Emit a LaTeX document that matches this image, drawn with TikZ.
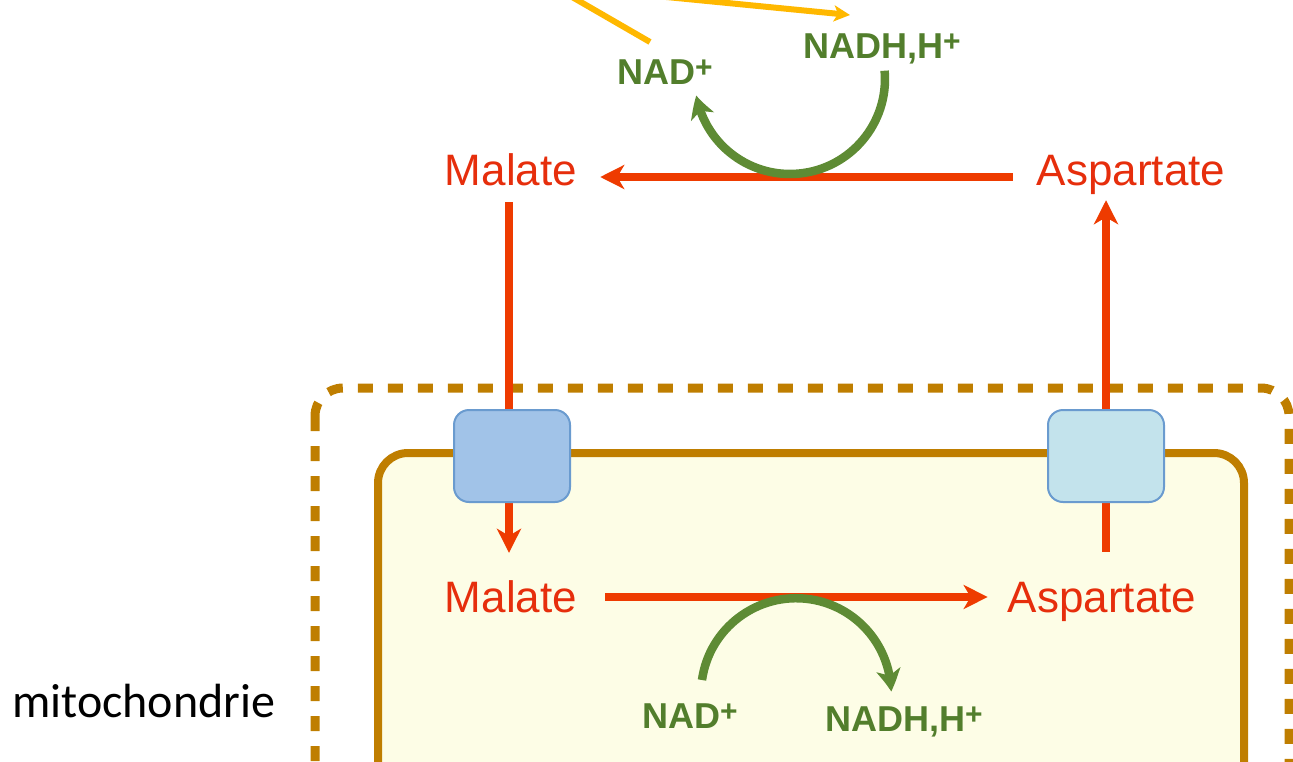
\documentclass[tikz,border=0pt]{standalone}
\usepackage{fontspec}
\setmainfont{Liberation Sans}
\newfontfamily\carlitofont{Carlito}
\usetikzlibrary{arrows.meta,bending}
\definecolor{redtxt}{RGB}{230,46,12}
\definecolor{redln}{RGB}{238,59,0}
\definecolor{grtxt}{RGB}{82,126,44}
\definecolor{grln}{RGB}{94,139,52}
\definecolor{yel}{RGB}{255,184,0}
\definecolor{mitobrown}{RGB}{191,126,0}
\definecolor{pale}{RGB}{253,253,230}
\definecolor{blueA}{RGB}{161,195,232}
\definecolor{blueB}{RGB}{195,227,236}
\definecolor{blueln}{RGB}{106,155,207}
\newcommand{\plusup}{\raisebox{6.5pt}{\fontsize{30}{30}\selectfont +}}
\begin{document}
\begin{tikzpicture}[x=1pt,y=-1pt,
  metab/.style={text=redtxt, font=\fontsize{44}{44}\selectfont, inner sep=0pt, anchor=base, text height=32pt, text depth=0pt},
  cof/.style={text=grtxt, font=\fontsize{36}{36}\selectfont\bfseries, inner sep=0pt, anchor=base west},
  redarrow/.style={draw=redln, line width=7.5pt, -{Stealth[length=24pt,width=24pt,inset=7pt]}},
  grarrow/.style={draw=grln, line width=8.5pt, -{Stealth[length=22pt,width=24pt,inset=6pt,bend]}},
  yline/.style={draw=yel, line width=6pt},
  transp/.style={draw=blueln, line width=2pt, rounded corners=15pt, minimum width=116pt, minimum height=92pt, inner sep=0pt}
]
\useasboundingbox (0,0) rectangle (1293,761);
\clip (0,0) rectangle (1293,761);

% membranes
\draw[mitobrown, line width=9pt, dash pattern=on 15pt off 15pt, rounded corners=28pt] (315,388) rectangle (1289,840);
\draw[mitobrown, line width=8pt, fill=pale, rounded corners=30pt] (378,453) rectangle (1244,840);

% labels
\node[metab] (malT) at (511,185) {Malate};
\node[metab] (aspT) at (1131,185) {Aspartate};
\node[metab] (malB) at (511,612) {Malate};
\node[metab] (aspB) at (1102,612) {Aspartate};

\node[cof] (nadT) at (617,84) {NAD\plusup};
\node[cof] (nadhT) at (803,58) {NADH,H\plusup};
\node[cof] (nadB) at (642,728) {NAD\plusup};
\node[cof] (nadhB) at (825,731) {NADH,H\plusup};

\node[anchor=base west, inner sep=0pt, font=\carlitofont\fontsize{48}{48}\selectfont] (mito) at (12,717) {mitochondrie};

% vertical transport lines
\draw[redarrow, shorten <=17pt, shorten >=27pt] ([xshift=-2pt]malT.south) -- ([xshift=-2pt]malB.north);
\draw[redarrow, shorten <=28pt, shorten >=15pt] ([xshift=4pt]aspB.north) -- ([xshift=-25pt]aspT.south);

% transporters
\node[transp, fill=blueA] (t1) at (512,456) {};
\node[transp, fill=blueB] (t2) at (1106,456) {};

% horizontal reactions
\draw[redarrow, shorten <=24pt, shorten >=23pt] ([yshift=8pt]aspT.base west) -- ([yshift=8pt]malT.base east);
\draw[redarrow, shorten <=28pt, shorten >=20pt] ([yshift=15pt]malB.base east) -- ([yshift=15pt]aspB.base west);

% cofactor arcs
\coordinate (ga1) at (884.6,70.7);
\draw[grarrow] (ga1) arc[start angle=5, end angle=-170, radius=95pt];
\coordinate (ga2) at (702,680);
\draw[grarrow] (ga2) arc[start angle=172, end angle=1, radius=95pt];

% yellow lines from above
\coordinate (y1a) at (560,-10);
\coordinate (y1b) at (650,42);
\draw[yline] (y1a) -- (y1b);
\coordinate (y2a) at (595,-10);
\coordinate (y2b) at (850,15);
\draw[yline, -{Stealth[length=16pt,width=16pt,inset=4pt]}] (y2a) -- (y2b);
\end{tikzpicture}
\end{document}
